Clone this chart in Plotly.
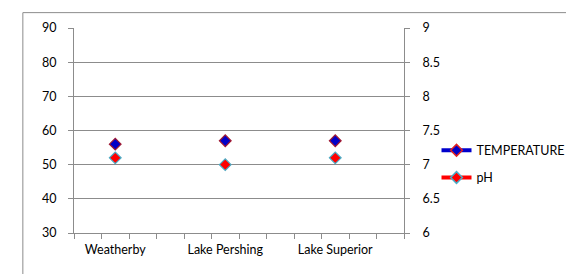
import plotly.graph_objects as go

sites = ["Weatherby", "Lake Pershing", "Lake Superior"]
temperature = [56, 57, 57]
ph = [7.1, 7.0, 7.1]
left_ticks = [30, 40, 50, 60, 70, 80, 90]
right_ticks = [6, 6.5, 7, 7.5, 8, 8.5, 9]
right_tick_labels = ["6", "6.5", "7", "7.5", "8", "8.5", "9"]

FONT = "Lato"
GRID = "#8c8c8c"

fig = go.Figure()

# data marks (markers only)
fig.add_trace(go.Scatter(
    x=sites, y=temperature, mode="markers", name="TEMPERATURE",
    marker=dict(symbol="diamond", size=9, color="#0000C8",
                line=dict(color="#A01830", width=1.2)),
    showlegend=False, xaxis="x", yaxis="y"))
fig.add_trace(go.Scatter(
    x=sites, y=ph, mode="markers", name="pH",
    marker=dict(symbol="diamond", size=9, color="#FF0000",
                line=dict(color="#4BACC6", width=1.2)),
    showlegend=False, xaxis="x", yaxis="y2"))

# legend entries (line + marker)
fig.add_trace(go.Scatter(
    x=[None], y=[None], mode="lines+markers", name="TEMPERATURE",
    line=dict(color="#0000CC", width=4),
    marker=dict(symbol="diamond", size=9, color="#0000C8",
                line=dict(color="#E02020", width=1.5)),
    legendgroup="a", xaxis="x", yaxis="y"))
fig.add_trace(go.Scatter(
    x=[None], y=[None], mode="lines+markers", name="pH",
    line=dict(color="#FF0000", width=4),
    marker=dict(symbol="diamond", size=9, color="#FF0000",
                line=dict(color="#4BACC6", width=1.5)),
    legendgroup="b", xaxis="x", yaxis="y"))

# helper trace so the tick axis exists
fig.add_trace(go.Scatter(x=[None], y=[None], xaxis="x2", yaxis="y",
                         showlegend=False, hoverinfo="skip"))

fig.update_layout(
    width=574, height=274,
    margin=dict(l=66, r=173, t=18, b=49),
    paper_bgcolor="white", plot_bgcolor="white",
    font=dict(family=FONT, size=12.5, color="#000000"),
    xaxis=dict(type="category", categoryorder="array", categoryarray=sites,
               range=[-0.375, 2.625], showgrid=False, zeroline=False,
               showline=False, ticks="", ticklabelstandoff=7,
               tickfont=dict(family=FONT, size=12.5, color="#000")),
    xaxis2=dict(overlaying="x", anchor="y", side="bottom", range=[0, 12],
                dtick=1, tick0=0, ticks="outside", ticklen=5, tickcolor=GRID,
                showticklabels=False, showgrid=False, zeroline=False,
                showline=True, linecolor=GRID, linewidth=1),
    yaxis=dict(range=[30, 90], tickvals=left_ticks, showgrid=True,
               gridcolor=GRID, gridwidth=1, zeroline=False,
               showline=True, linecolor=GRID, linewidth=1,
               ticks="outside", ticklen=5, tickcolor=GRID,
               ticklabelstandoff=9,
               tickfont=dict(family=FONT, size=12.5, color="#000")),
    yaxis2=dict(range=[6, 9], tickvals=right_ticks, ticktext=right_tick_labels,
                overlaying="y", side="right", anchor="x", showgrid=False,
                zeroline=False, showline=True, linecolor=GRID, linewidth=1,
                ticks="outside", ticklen=5, tickcolor=GRID,
                ticklabelstandoff=10,
                tickfont=dict(family=FONT, size=12.5, color="#000")),
    legend=dict(x=1.0985, xanchor="left", y=0.475, yanchor="top",
                bgcolor="rgba(0,0,0,0)", traceorder="grouped",
                tracegroupgap=8, font=dict(family=FONT, size=12.5, color="#000"),
                itemwidth=30),
    showlegend=True,
    shapes=[dict(type="rect", xref="paper", yref="paper",
                 x0=-0.155, x1=1.8, y0=-0.5, y1=1.075,
                 line=dict(color=GRID, width=1), layer="below")],
)

fig.write_html("out.html")
